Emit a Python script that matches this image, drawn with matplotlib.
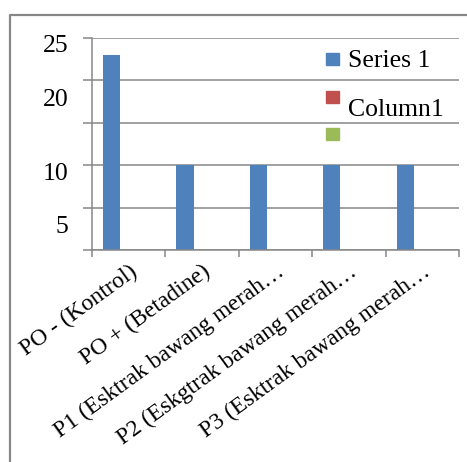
import matplotlib.pyplot as plt
import numpy as np
from matplotlib.patches import Rectangle
from matplotlib.lines import Line2D
from matplotlib.ticker import FixedLocator
from matplotlib.transforms import ScaledTranslation

plt.rcParams['font.family'] = ['Liberation Serif', 'DejaVu Serif']

# data
categories = ["PO - (Kontrol)", "PO + (Betadine)", "P1 (Esktrak bawang merah…",
              "P2 (Eskgtrak bawang merah…", "P3 (Esktrak bawang merah…"]
series1 = [23, 10, 10, 10, 10]
column1 = [np.nan] * 5
series3 = [np.nan] * 5
ytick_vals = [0, 5, 10, 15, 20, 25]
ylabel_text = ["25", "20", "10", "5"]
ylabel_pos = [24.4, 18.0, 9.2, 2.95]   # where the labels sit in the picture

grid_col = '#878787'
blue, red, green = '#4F81BD', '#C0504D', '#9BBB59'
fs = 18.5
fs_cat = 17

fig = plt.figure(figsize=(4.67, 4.62), dpi=100)
ax = fig.add_axes([92/467, 1-250/462, (459-92)/467, (250-38)/462])

x = np.arange(len(categories))
w = 0.233
ax.bar(x - w, series1, w, color=blue, zorder=3)
ax.bar(x, column1, w, color=red, zorder=3)
ax.bar(x + w, series3, w, color=green, zorder=3)

ax.set_xlim(-0.5, len(categories) - 0.5)
ax.set_ylim(0, 25)

# y axis: gridlines + outward ticks, labels at their own odd spots
ax.set_yticks(ytick_vals)
ax.set_yticklabels([])
ax.yaxis.set_minor_locator(FixedLocator(ylabel_pos))
ax.set_yticks(ylabel_pos, ylabel_text, minor=True)
ax.tick_params(axis='y', which='major', length=6.5, width=1.1, color=grid_col)
ax.tick_params(axis='y', which='minor', length=0, pad=17, labelsize=fs)
ax.grid(axis='y', which='major', color=grid_col, linewidth=1.1, zorder=0)

# x axis: ticks at category boundaries, labels at centres
ax.set_xticks(x)
ax.set_xticklabels(categories, rotation=36, ha='right', va='top',
                   rotation_mode='anchor', fontsize=fs_cat)
shift = ScaledTranslation(10/100, -2/100, fig.dpi_scale_trans)
for lbl in ax.get_xticklabels():
    lbl.set_transform(lbl.get_transform() + shift)
ax.set_xticks(np.arange(-0.5, len(categories)), minor=True)
ax.tick_params(axis='x', which='major', length=0, pad=8)
ax.tick_params(axis='x', which='minor', length=5, width=1.1, color=grid_col)

for s in ['top', 'right']:
    ax.spines[s].set_visible(False)
for s in ['left', 'bottom']:
    ax.spines[s].set_color(grid_col)
    ax.spines[s].set_linewidth(1.1)
    ax.spines[s].set_zorder(4)

# legend, drawn by hand to keep the odd offsets
leg = [(blue, "Series 1", 53, 61), (red, "Column1", 91, 110), (green, "", 128, 0)]
for col, lab, ytop, ytxt in leg:
    fig.add_artist(Rectangle((326/467, 1-(ytop+11.5)/462), 13/467, 11.5/462,
                             transform=fig.transFigure, color=col))
    if lab:
        fig.text(348/467, 1-ytxt/462, lab, fontsize=fs, va='center', ha='left')

# outer frame (top and left edges only visible)
fig.add_artist(Line2D([10/467, 10/467, 1.0], [0.0, 1-15/462, 1-15/462],
                      transform=fig.transFigure, color=grid_col, linewidth=1.6))

fig.savefig('out.png', dpi=100)
